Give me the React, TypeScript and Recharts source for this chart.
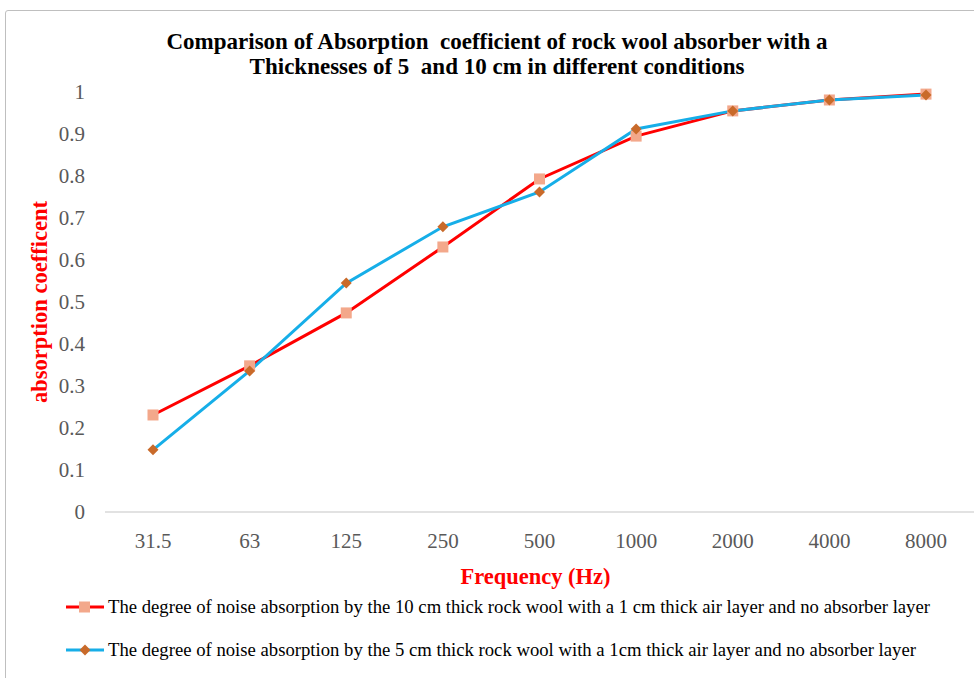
import React from "react";
import { LineChart, Line, XAxis, YAxis, Legend } from "recharts";

const frequencies = ["31.5", "63", "125", "250", "500", "1000", "2000", "4000", "8000"];
const rockWool10cm = [0.231, 0.348, 0.474, 0.631, 0.793, 0.895, 0.955, 0.981, 0.995];
const rockWool5cm = [0.148, 0.336, 0.545, 0.679, 0.762, 0.912, 0.955, 0.981, 0.993];
const yTicks = [0, 0.1, 0.2, 0.3, 0.4, 0.5, 0.6, 0.7, 0.8, 0.9, 1];

const NAME_10 =
  "The degree of noise absorption by the 10 cm thick rock wool with a 1 cm thick air layer and no absorber layer";
const NAME_5 =
  "The degree of noise absorption by the 5 cm thick rock wool with a 1cm thick air layer and no absorber layer";

const RED = "#ff0000";
const BLUE = "#16aee8";
const SQUARE = "#f3a88b";
const DIAMOND = "#c96a2a";
const FONT = "'Liberation Serif', 'Times New Roman', serif";

const data = frequencies.map((f, i) => ({
  freq: f,
  r10: rockWool10cm[i],
  r5: rockWool5cm[i],
}));

// eslint-disable-next-line @typescript-eslint/no-explicit-any
function SquareDot(props: any) {
  const { cx, cy } = props;
  if (cx == null || cy == null) return null;
  return <rect x={cx - 5.5} y={cy - 5.5} width={11} height={11} fill={SQUARE} />;
}

// eslint-disable-next-line @typescript-eslint/no-explicit-any
function DiamondDot(props: any) {
  const { cx, cy } = props;
  if (cx == null || cy == null) return null;
  return (
    <path d={`M${cx},${cy - 5.5} L${cx + 5.5},${cy} L${cx},${cy + 5.5} L${cx - 5.5},${cy} Z`} fill={DIAMOND} />
  );
}

function LegendRow({ kind, label }: { kind: "square" | "diamond"; label: string }) {
  const color = kind === "square" ? RED : BLUE;
  return (
    <div style={{ display: "flex", alignItems: "center", height: 30 }}>
      <svg width={38} height={14} style={{ marginLeft: 66, marginRight: 4 }}>
        <line x1={0} y1={7} x2={38} y2={7} stroke={color} strokeWidth={3} />
        {kind === "square" ? (
          <rect x={13} y={1.5} width={11} height={11} fill={SQUARE} />
        ) : (
          <path d="M19,1.5 L24.5,7 L19,12.5 L13.5,7 Z" fill={DIAMOND} />
        )}
      </svg>
      <span style={{ fontFamily: FONT, fontSize: 18.7, color: "#000", whiteSpace: "nowrap" }}>{label}</span>
    </div>
  );
}

function LegendContent() {
  return (
    <div style={{ height: 86, width: 974 }}>
      <LegendRow kind="square" label={NAME_10} />
      <div style={{ height: 13 }} />
      <LegendRow kind="diamond" label={NAME_5} />
    </div>
  );
}

export default function App() {
  return (
    <div
      style={{
        position: "fixed",
        left: 0,
        top: 0,
        width: 974,
        height: 678,
        overflow: "hidden",
        background: "#fff",
      }}
    >
      <div
        style={{
          position: "absolute",
          left: 5,
          top: 10,
          width: 1000,
          height: 700,
          border: "1.5px solid #bfbfbf",
          borderRadius: 3,
        }}
      />
      <div
        style={{
          position: "absolute",
          left: 0,
          width: 994,
          top: 29,
          textAlign: "center",
          fontFamily: FONT,
          fontWeight: "bold",
          fontSize: 23,
          lineHeight: "25px",
          color: "#000",
        }}
      >
        Comparison of Absorption&nbsp; coefficient of rock wool absorber with a
        <br />
        Thicknesses of 5&nbsp; and 10 cm in different conditions
      </div>
      <LineChart
        width={974}
        height={678}
        data={data}
        margin={{ top: 92, right: 0, bottom: 0, left: 0 }}
        style={{ position: "absolute", left: 0, top: 0 }}
      >
        <XAxis
          dataKey="freq"
          height={80}
          padding={{ left: 48, right: 48 }}
          tickSize={0}
          tickMargin={21}
          axisLine={{ stroke: "#d9d9d9", strokeWidth: 1.5 }}
          tick={{ fill: "#595959", fontSize: 21, fontFamily: FONT }}
          label={{
            // eslint-disable-next-line @typescript-eslint/no-explicit-any
            content: (p: any) => {
              const vb = p.viewBox;
              return (
                <text
                  x={vb.x + vb.width / 2 - 4}
                  y={vb.y + 72}
                  textAnchor="middle"
                  fill={RED}
                  fontFamily={FONT}
                  fontWeight="bold"
                  fontSize={22.5}
                >
                  Frequency (Hz)
                </text>
              );
            },
          }}
        />
        <YAxis
          width={105}
          domain={[0, 1]}
          ticks={yTicks}
          tickFormatter={(v: number) => String(v)}
          tickSize={0}
          tickMargin={20}
          axisLine={false}
          tickLine={false}
          tick={{ fill: "#595959", fontSize: 21, fontFamily: FONT }}
          label={{
            // eslint-disable-next-line @typescript-eslint/no-explicit-any
            content: (p: any) => {
              const vb = p.viewBox;
              const cx = 47;
              const cy = vb.y + vb.height / 2;
              return (
                <text
                  x={cx}
                  y={cy}
                  transform={`rotate(-90 ${cx} ${cy})`}
                  textAnchor="middle"
                  fill={RED}
                  fontFamily={FONT}
                  fontWeight="bold"
                  fontSize={22.5}
                >
                  absorption coefficent
                </text>
              );
            },
          }}
        />
        <Legend
          verticalAlign="bottom"
          align="left"
          content={<LegendContent />}
          wrapperStyle={{ left: 0, width: 974 }}
        />
        <Line
          type="linear"
          dataKey="r10"
          name={NAME_10}
          stroke={RED}
          strokeWidth={3}
          dot={<SquareDot />}
          activeDot={false}
          isAnimationActive={false}
        />
        <Line
          type="linear"
          dataKey="r5"
          name={NAME_5}
          stroke={BLUE}
          strokeWidth={3}
          dot={<DiamondDot />}
          activeDot={false}
          isAnimationActive={false}
        />
      </LineChart>
    </div>
  );
}
